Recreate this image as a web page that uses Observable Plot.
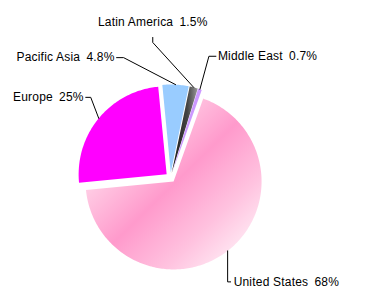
<!DOCTYPE html>
<html><head><meta charset="utf-8">
<script src="https://cdn.jsdelivr.net/npm/d3@7"></script>
<script src="https://cdn.jsdelivr.net/npm/@observablehq/plot@0.6"></script>
<style>body{margin:0;background:#fff} svg{display:block}</style>
</head><body><div id="chart"></div>
<script>
// ---- data ----
const regions = ["Europe", "Pacific Asia", "Latin America", "Middle East", "United States"];
const shares = [25, 4.8, 1.5, 0.7, 68];
const shareLabels = ["25%", "4.8%", "1.5%", "0.7%", "68%"];
const fills = ["#ff00ff", "#99ccff", "url(#laGrad)", "#cc99ff", "url(#usGrad)"];

// ---- layout ----
const W = 374, H = 304, cx = 170, cy = 177, R = 88, explode = 5, startDeg = 264.5;
const labelLayout = [
  {elbow: [-8, -21], tick: [-5, 0], text: [-2, 0], anchor: "end"},
  {elbow: [-52, -27], tick: [-7, 0], text: [-2, 0], anchor: "end"},
  {elbow: [-41, -45], tick: [0, -5], text: [0, -15], anchor: "middle"},
  {elbow: [9, -33], tick: [7, 0], text: [2, 0], anchor: "start"},
  {elbow: [0, 31], tick: [3, 0], text: [3, 0], anchor: "start"}
];

const rows = regions.map((r, i) => ({region: r, share: shares[i], label: shareLabels[i], fill: fills[i], layout: labelLayout[i]}));
const a0 = startDeg * Math.PI / 180;
const arcs = d3.pie().sort(null).value(d => d.share).startAngle(a0).endAngle(a0 + 2 * Math.PI)(rows);

const slicePts = [], leaderPts = [], labels = [];
arcs.forEach(a => {
  const d = a.data;
  const mid = (a.startAngle + a.endAngle) / 2;
  const ox = cx + explode * Math.sin(mid), oy = cy - explode * Math.cos(mid);
  const n = Math.max(2, Math.ceil((a.endAngle - a.startAngle) / (Math.PI / 180)));
  slicePts.push({region: d.region, fill: d.fill, x: ox, y: oy});
  for (let k = 0; k <= n; k++) {
    const t = a.startAngle + (a.endAngle - a.startAngle) * k / n;
    slicePts.push({region: d.region, fill: d.fill, x: ox + R * Math.sin(t), y: oy - R * Math.cos(t)});
  }
  slicePts.push({region: d.region, fill: d.fill, x: ox, y: oy});
  const px = ox + R * Math.sin(mid), py = oy - R * Math.cos(mid);
  const L = d.layout;
  const ex = px + L.elbow[0], ey = py + L.elbow[1];
  const tx = ex + L.tick[0], ty = ey + L.tick[1];
  leaderPts.push({region: d.region, x: px, y: py}, {region: d.region, x: ex, y: ey}, {region: d.region, x: tx, y: ty});
  labels.push({text: d.region + "\u2002" + d.label, x: tx + L.text[0], y: ty + L.text[1], anchor: L.anchor});
});

const textMark = anchor => Plot.text(labels.filter(l => l.anchor === anchor), {
  x: "x", y: "y", text: "text", textAnchor: anchor, fill: "black",
  fontSize: 12, fontFamily: "Liberation Sans, Arial, sans-serif"
});

const svg = Plot.plot({
  width: W, height: H, margin: 0,
  x: {type: "linear", domain: [0, W], range: [0, W], axis: null},
  y: {type: "linear", domain: [0, H], range: [0, H], axis: null},
  color: {type: "identity"},
  style: {background: "#fff"},
  marks: [
    Plot.line(slicePts, {x: "x", y: "y", z: "region", fill: "fill", stroke: "none", curve: "linear"}),
    Plot.line(leaderPts, {x: "x", y: "y", z: "region", stroke: "black", strokeWidth: 1, curve: "linear"}),
    textMark("end"), textMark("middle"), textMark("start")
  ]
});
svg.style.letterSpacing = "0.2px";
const defs = d3.select(svg).insert("defs", ":first-child");
const us = defs.append("linearGradient").attr("id", "usGrad").attr("x1", 0).attr("y1", 0).attr("x2", 1).attr("y2", 1);
[[0, "#fff2f8"], [0.25, "#ffd0e6"], [0.5, "#ff9acc"], [0.72, "#ffc2df"], [0.92, "#fff0f7"], [1, "#fffafc"]]
  .forEach(([o, c]) => us.append("stop").attr("offset", o).attr("stop-color", c));
const la = defs.append("linearGradient").attr("id", "laGrad").attr("x1", 0).attr("y1", 0).attr("x2", 1).attr("y2", 0);
[[0, "#1a1a1a"], [0.6, "#444"], [1, "#999"]]
  .forEach(([o, c]) => la.append("stop").attr("offset", o).attr("stop-color", c));
document.getElementById("chart").appendChild(svg);
</script>
</body></html>
